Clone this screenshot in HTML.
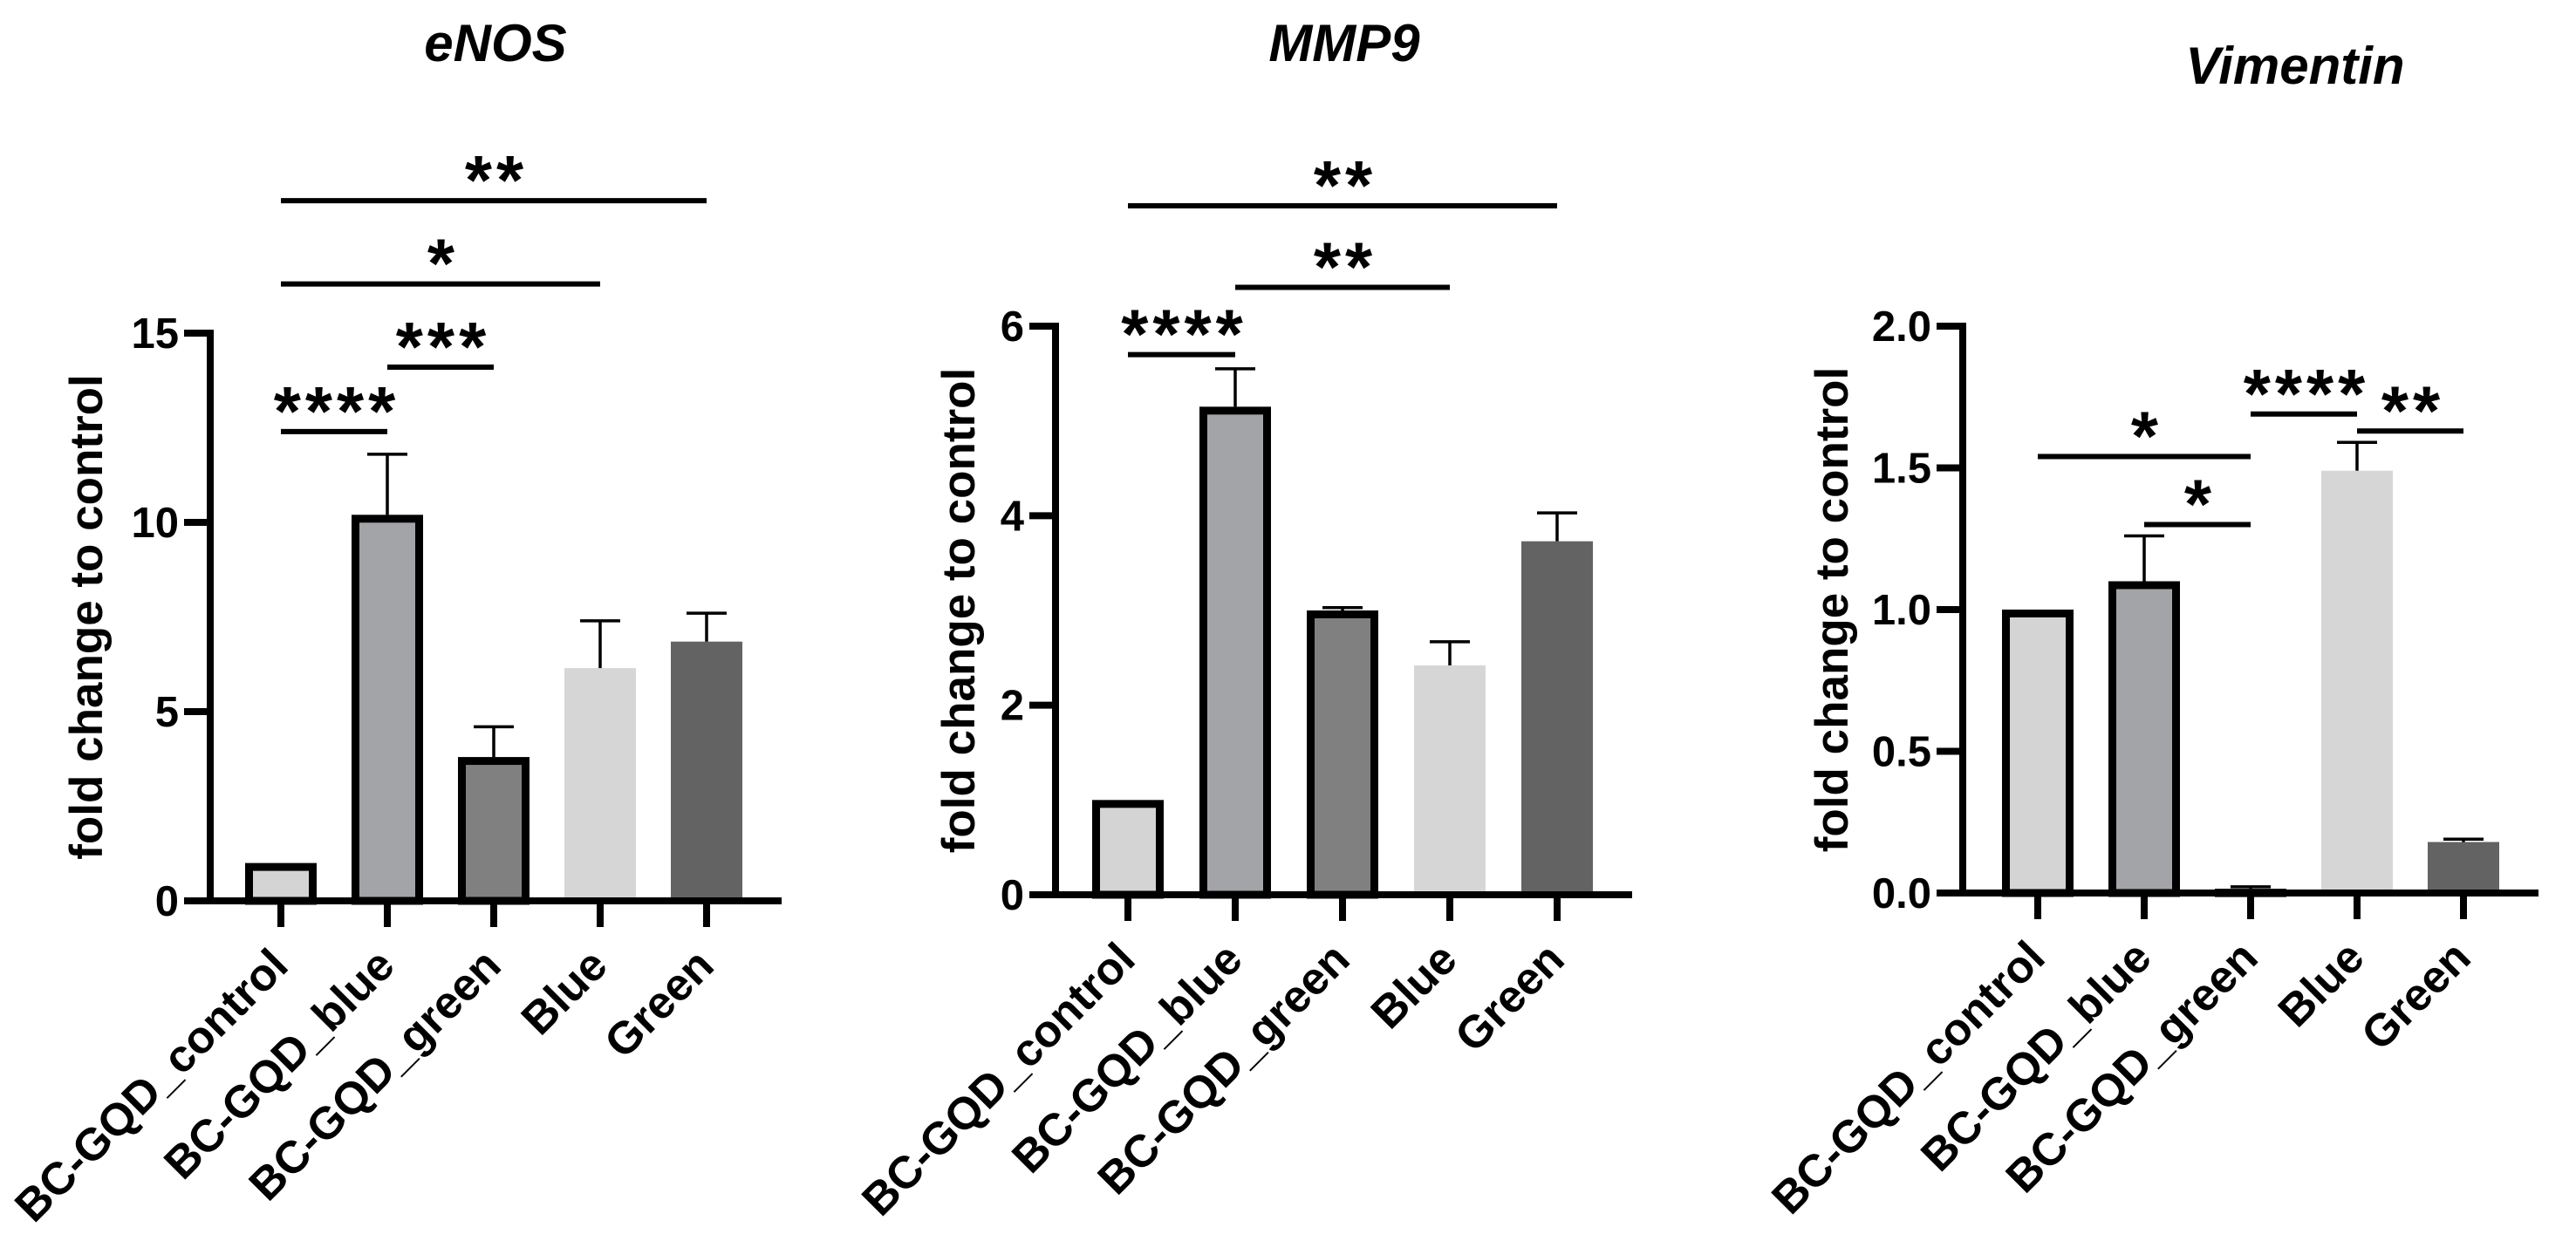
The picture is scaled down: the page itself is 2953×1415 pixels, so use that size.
<!DOCTYPE html>
<html><head><meta charset="utf-8"><style>
html,body{margin:0;padding:0;background:#fff}
svg{display:block}
text{font-family:"Liberation Sans",Arial,sans-serif;font-weight:bold;fill:#000}
</style></head><body>
<svg id="fig" width="2953" height="1415" viewBox="0 0 2953 1415" xmlns="http://www.w3.org/2000/svg"></svg>
<script>
const categories = ["BC-GQD_control","BC-GQD_blue","BC-GQD_green","Blue","Green"];
const fills = ["#d4d4d4","#a3a4a8","#808080","#d6d6d6","#636363"];
const bordered = [true,true,true,false,false];

const enosValues = [1.0, 10.2, 3.8, 6.15, 6.85];
const enosErr = [1.0, 11.8, 4.6, 7.4, 7.6];
const enosTicks = [0,5,10,15];
const enosTickLabels = ["0","5","10","15"];
const enosSig = [[0,4,18.5,"**"],[0,3,16.3,"*"],[1,2,14.1,"***"],[0,1,12.4,"****"]];

const mmpValues = [1.0, 5.15, 3.0, 2.42, 3.73];
const mmpErr = [1.0, 5.55, 3.03, 2.67, 4.03];
const mmpTicks = [0,2,4,6];
const mmpTickLabels = ["0","2","4","6"];
const mmpSig = [[0,4,7.27,"**"],[1,3,6.41,"**"],[0,1,5.7,"****"]];

const vimValues = [1.0, 1.1, 0.015, 1.49, 0.18];
const vimErr = [1.0, 1.26, 0.022, 1.59, 0.19];
const vimTicks = [0,0.5,1,1.5,2];
const vimTickLabels = ["0.0","0.5","1.0","1.5","2.0"];
const vimSig = [[0,2,1.54,"*"],[1,2,1.30,"*"],[2,3,1.69,"****"],[3,4,1.63,"**"]];

const NS="http://www.w3.org/2000/svg";
const svg=document.getElementById('fig');
function mk(tag,attrs,parent){const e=document.createElementNS(NS,tag);for(const k in attrs)e.setAttribute(k,attrs[k]);(parent||svg).appendChild(e);return e;}

function panel(cfg){
  const g=mk('g',{});
  
  
  const yS=v=>cfg.y0-(v/cfg.yMax)*(cfg.y0-cfg.yTop);
  const xS=i=>cfg.x0+i*cfg.step;
  const bw=82;
  const t=mk('text',{x:cfg.titleX,y:cfg.titleY,'text-anchor':'middle','font-size':60,'font-style':'italic'},g);
  t.textContent=cfg.title;
  
  
  const yl=mk('text',{x:0,y:0,'text-anchor':'middle','font-size':53,transform:`translate(${cfg.ylabelX+18},${(cfg.y0+cfg.yTop)/2}) rotate(-90)`},g);
  yl.textContent="fold change to control";
  
  
  cfg.values.forEach((v,i)=>{
    const cx=xS(i), top=yS(v), base=cfg.y0;
    let r;
    if(bordered[i]){
      r=mk('rect',{x:cx-bw/2+4.5,y:top+4.5,width:bw-9,height:Math.max(base-top-4.5,0.5),fill:fills[i],stroke:'#000','stroke-width':9},g);
    } else {
      r=mk('rect',{x:cx-bw/2,y:top,width:bw,height:base-top,fill:fills[i]},g);
    }
    
    
    const e=cfg.err[i];
    if(e>v+0.001){
      const eg=mk('g',{stroke:'#000','stroke-width':3.5},g);
      
      
      mk('line',{x1:cx,x2:cx,y1:top,y2:yS(e)},eg);
      mk('line',{x1:cx-23,x2:cx+23,y1:yS(e),y2:yS(e)},eg);
    }
  });
  const ax=mk('g',{stroke:'#000','stroke-width':8},g);
  
  
  mk('line',{x1:cfg.axisX,x2:cfg.axisX,y1:cfg.yTop-4,y2:cfg.y0+4},ax);
  mk('line',{x1:cfg.axisX-30,x2:cfg.xEnd,y1:cfg.y0,y2:cfg.y0},ax);
  cfg.ticks.forEach((tv,k)=>{
    const y=yS(tv);
    mk('line',{x1:cfg.axisX-30,x2:cfg.axisX,y1:y,y2:y},ax);
    const tl=mk('text',{x:cfg.axisX-36,y:y+17,'text-anchor':'end','font-size':49},g);
    tl.textContent=cfg.tickLabels[k];
    
    
  });
  categories.forEach((c,i)=>{
    const cx=xS(i);
    mk('line',{x1:cx,x2:cx,y1:cfg.y0,y2:cfg.y0+30},ax);
    const xl=mk('text',{x:0,y:0,'text-anchor':'end','font-size':52,transform:`translate(${cx+11},${cfg.y0+77}) rotate(-45)`},g);
    xl.textContent=c;
    
    
  });
  cfg.sig.forEach(s=>{
    const y=yS(s[2]), xa=xS(s[0]), xb=xS(s[1]);
    const l=mk('line',{x1:xa,x2:xb,y1:y,y2:y,stroke:'#000','stroke-width':6},g);
    
    
    const st=mk('text',{x:(xa+xb)/2+3,y:y+4,'text-anchor':'middle','font-size':80,'letter-spacing':5},g);
    st.textContent=s[3];
    
    
  });
}

panel({name:'enos',title:'eNOS',titleX:568,titleY:70,axisX:241,y0:1033,yTop:382,yMax:15,x0:322,step:122,xEnd:896,ylabelX:99,
  values:enosValues,err:enosErr,ticks:enosTicks,tickLabels:enosTickLabels,sig:enosSig});
panel({name:'mmp9',title:'MMP9',titleX:1541,titleY:70,axisX:1210,y0:1026,yTop:374,yMax:6,x0:1293,step:123,xEnd:1871,ylabelX:1099,
  values:mmpValues,err:mmpErr,ticks:mmpTicks,tickLabels:mmpTickLabels,sig:mmpSig});
panel({name:'vimentin',title:'Vimentin',titleX:2631,titleY:96,axisX:2250,y0:1024,yTop:374,yMax:2,x0:2336,step:122,xEnd:2910,ylabelX:2100,
  values:vimValues,err:vimErr,ticks:vimTicks,tickLabels:vimTickLabels,sig:vimSig});
</script>
</body></html>
